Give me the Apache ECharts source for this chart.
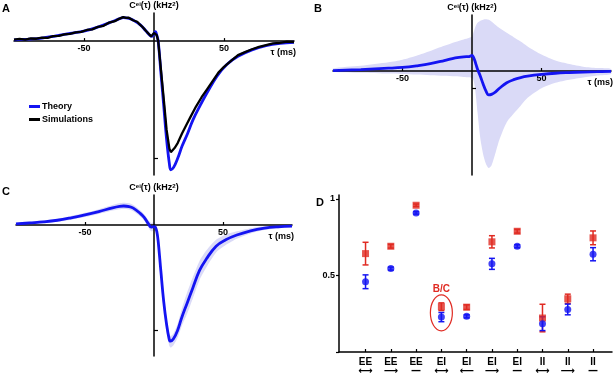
<!DOCTYPE html>
<html>
<head>
<meta charset="utf-8">
<script src="https://cdn.jsdelivr.net/npm/echarts@6/dist/echarts.min.js"></script>
<style>
html, body { margin: 0; padding: 0; background: #fff; }
#main { width: 613px; height: 373px; }
</style>
</head>
<body>
<div id="main"></div>
<script>
// panel A : theory vs simulations (units: the y tick is -1)
const aTau = [-100, -90, -80, -70, -60, -50, -40, -30, -25, -22, -18, -15, -10, -6, -3, -1.5, 0, 1, 2, 3, 5, 7, 9, 11, 12, 14, 17, 20, 24, 28, 33, 38, 45, 52, 60, 70, 80, 90, 100]
const aTheory = [0.01, 0.017, 0.025, 0.045, 0.065, 0.085, 0.12, 0.165, 0.19, 0.2, 0.195, 0.18, 0.14, 0.09, 0.05, 0.04, 0.065, 0.08, 0.05, 0.0, -0.28, -0.56, -0.84, -1.05, -1.1, -1.08, -1.0, -0.9, -0.79, -0.67, -0.55, -0.44, -0.3, -0.2, -0.13, -0.075, -0.04, -0.02, -0.01]
const simTau = [-100, -96, -92, -88, -84, -80, -76, -72, -68, -64, -60, -56, -52, -48, -44, -40, -36, -32, -28, -25, -22, -20, -18, -15, -12, -10, -8, -6, -4, -2, -1, 0, 1, 2, 3, 5, 7, 9, 11, 12, 13, 15, 17, 20, 23, 26, 30, 34, 38, 42, 46, 50, 55, 60, 65, 70, 75, 80, 85, 90, 95, 100]
const simVal = [0.012, 0.018, 0.012, 0.022, 0.02, 0.03, 0.028, 0.042, 0.045, 0.058, 0.062, 0.075, 0.078, 0.095, 0.1, 0.122, 0.13, 0.158, 0.17, 0.19, 0.205, 0.198, 0.2, 0.178, 0.165, 0.14, 0.118, 0.09, 0.065, 0.04, 0.045, 0.07, 0.085, 0.05, 0.0, -0.25, -0.5, -0.76, -0.92, -0.95, -0.945, -0.91, -0.87, -0.79, -0.72, -0.65, -0.56, -0.48, -0.41, -0.34, -0.27, -0.22, -0.17, -0.12, -0.095, -0.07, -0.05, -0.035, -0.02, -0.015, -0.005, -0.008]

// panel B : mean and spread
const bTau = [-100, -80, -60, -50, -40, -30, -20, -12, -6, -2, 0, 1, 2, 3, 4, 6, 8, 10, 12, 14, 17, 20, 25, 30, 35, 40, 50, 60, 70, 80, 90, 100]
const bMean = [0.02, 0.08, 0.16, 0.21, 0.3, 0.42, 0.6, 0.76, 0.82, 0.83, 0.9, 0.8, 0.6, 0.35, 0.1, -0.3, -0.75, -1.15, -1.38, -1.35, -1.2, -0.98, -0.68, -0.5, -0.38, -0.3, -0.2, -0.13, -0.09, -0.06, -0.04, -0.02]
const bUpper = [0.15, 0.3, 0.5, 0.65, 0.88, 1.15, 1.45, 1.67, 1.82, 1.92, 1.98, 2.2, 2.45, 2.65, 2.78, 2.9, 2.96, 2.98, 2.95, 2.85, 2.65, 2.46, 2.2, 1.95, 1.7, 1.42, 0.95, 0.6, 0.4, 0.25, 0.17, 0.12]
const bLower = [-0.04, -0.1, -0.15, -0.17, -0.2, -0.24, -0.28, -0.31, -0.34, -0.36, -0.4, -0.5, -0.9, -1.6, -2.4, -3.9, -4.8, -5.35, -5.6, -5.45, -4.7, -3.9, -2.95, -2.45, -2.0, -1.55, -1.0, -0.68, -0.5, -0.37, -0.26, -0.17]

// panel C : mean and spread
const cTau = [-100, -90, -80, -70, -60, -50, -40, -30, -25, -22, -18, -15, -10, -7, -4, -2, 0, 1, 2, 3, 5, 7, 9, 11, 12, 14, 17, 20, 24, 28, 33, 38, 45, 52, 60, 70, 80, 90, 100]
const cMean = [0.01, 0.02, 0.03, 0.045, 0.068, 0.095, 0.127, 0.163, 0.177, 0.18, 0.175, 0.16, 0.11, 0.07, 0.01, -0.02, -0.015, -0.02, -0.06, -0.15, -0.44, -0.72, -0.93, -1.08, -1.1, -1.08, -1.0, -0.88, -0.74, -0.6, -0.43, -0.32, -0.2, -0.14, -0.095, -0.055, -0.03, -0.017, -0.01]
const cUpper = [0.02, 0.03, 0.045, 0.06, 0.085, 0.115, 0.15, 0.19, 0.205, 0.21, 0.205, 0.19, 0.14, 0.1, 0.045, 0.02, 0.025, 0.015, -0.02, -0.1, -0.38, -0.65, -0.87, -1.02, -1.05, -1.03, -0.94, -0.8, -0.64, -0.5, -0.34, -0.24, -0.14, -0.09, -0.06, -0.03, -0.012, -0.004, 0.0]
const cLower = [0.0, 0.01, 0.018, 0.03, 0.05, 0.075, 0.105, 0.137, 0.15, 0.152, 0.147, 0.13, 0.08, 0.04, -0.025, -0.06, -0.055, -0.06, -0.1, -0.2, -0.5, -0.79, -0.99, -1.14, -1.16, -1.14, -1.07, -0.96, -0.84, -0.7, -0.52, -0.4, -0.26, -0.19, -0.13, -0.08, -0.048, -0.03, -0.02]

// panel D
const dPos = [1, 2, 3, 4, 5, 6, 7, 8, 9, 10]
const dPairs = ['EE', 'EE', 'EE', 'EI', 'EI', 'EI', 'EI', 'II', 'II', 'II']
const dArrows = ['⟷', '⟶', '—', '⟷', '⟵', '⟶', '—', '⟷', '⟶', '—']
const redVal = [0.643, 0.691, 0.959, 0.296, 0.293, 0.72, 0.789, 0.222, 0.348, 0.746]
const redErr = [0.074, 0.012, 0.008, 0.025, 0.015, 0.04, 0.012, 0.09, 0.03, 0.045]
const blueVal = [0.459, 0.545, 0.909, 0.228, 0.233, 0.576, 0.691, 0.185, 0.278, 0.639]
const blueErr = [0.045, 0.01, 0.008, 0.03, 0.01, 0.036, 0.01, 0.045, 0.035, 0.043]
const circled = [[4, 0.256]]

const FONT = '"Liberation Sans", Arial, sans-serif'
const BLUE = '#1414f2'
const RED = '#e02a22'
const BAND = '#dadaf7'

const pairs = (xs, ys) => xs.map((x, i) => [x, ys[i]])

// 三个曲线面板的网格 + y 轴范围
const panels = [
    { grid: { left: 14, top: 13, width: 280, height: 162 }, ymin: -1.145, ymax: 0.24 },
    { grid: { left: 333, top: 15, width: 278, height: 160 }, ymin: -6.0, ymax: 3.23 },
    { grid: { left: 16, top: 195, width: 276, height: 161 }, ymin: -1.24, ymax: 0.284 }
]

const nameRich = {
    c: { fontSize: 9, fontWeight: 'bold', fontFamily: FONT, color: '#000' },
    s: { fontSize: 6, fontWeight: 'bold', fontFamily: FONT, color: '#000', verticalAlign: 'top' }
}

// 横轴 τ : 用 offset 把整根轴(线, 刻度, 标签)挪到 y=0 的位置
function tauAxis(gridIndex) {
    const p = panels[gridIndex]
    const offset = -p.grid.height * (-p.ymin) / (p.ymax - p.ymin)
    return {
        type: 'value', gridIndex, min: -100, max: 100, position: 'bottom', offset, z: 1.5,
        axisLine: { onZero: false, lineStyle: { color: '#000', width: 1.5 } },
        axisTick: { customValues: [-50, 50], inside: true, length: 3, lineStyle: { color: '#000', width: 1.2 } },
        axisLabel: { customValues: [-50, 50], fontSize: 9, fontWeight: 'bold', fontFamily: FONT, color: '#000', margin: 3 },
        splitLine: { show: false },
        name: 'τ (ms)', nameLocation: 'end', nameGap: 2,
        nameTextStyle: { fontSize: 9, fontWeight: 'bold', fontFamily: FONT, color: '#000', align: 'right', verticalAlign: 'top', padding: [7, 0, 0, 0] }
    }
}

// 纵轴 C(τ)
function cAxis(gridIndex) {
    const p = panels[gridIndex]
    return {
        type: 'value', gridIndex, min: p.ymin, max: p.ymax, z: 1.5,
        axisLine: { onZero: true, lineStyle: { color: '#000', width: 1.5 } },
        axisTick: { customValues: [-1], inside: true, length: 4, lineStyle: { color: '#000', width: 1.2 } },
        axisLabel: { show: false },
        splitLine: { show: false },
        name: '{c|C}{s|ei}{c|(τ) (kHz}{s|2}{c|)}', nameLocation: 'end', nameGap: 3,
        nameTextStyle: { rich: nameRich }
    }
}

// 阴影带: 一个多边形, 上沿 + 反向的下沿
function bandSeries(idx, tau, lower, upper) {
    return {
        name: 'band' + idx, type: 'custom', xAxisIndex: idx, yAxisIndex: idx, z: 1, silent: true,
        data: tau.map((t, i) => [t, lower[i], upper[i]]),
        encode: { x: 0, y: [1, 2] },
        renderItem(params, api) {
            if (params.dataIndex !== 0) return null
            const top = tau.map((t, i) => api.coord([t, upper[i]]))
            const bottom = tau.map((t, i) => api.coord([t, lower[i]])).reverse()
            return { type: 'polygon', shape: { points: top.concat(bottom), smooth: 0.25 }, style: { fill: BAND } }
        }
    }
}

function errorBars(color) {
    return function (params, api) {
        const x = api.value(0)
        const lo = api.coord([x, api.value(1)])
        const hi = api.coord([x, api.value(2)])
        const w = 3
        const style = { stroke: color, lineWidth: 1.5 }
        return {
            type: 'group', children: [
                { type: 'line', shape: { x1: lo[0], y1: lo[1], x2: hi[0], y2: hi[1] }, style },
                { type: 'line', shape: { x1: lo[0] - w, y1: lo[1], x2: lo[0] + w, y2: lo[1] }, style },
                { type: 'line', shape: { x1: hi[0] - w, y1: hi[1], x2: hi[0] + w, y2: hi[1] }, style }
            ]
        }
    }
}

const chart = echarts.init(document.getElementById('main'), null, { renderer: 'canvas' })

const option = {
    animation: false,
    backgroundColor: '#fff',
    grid: panels.map(p => Object.assign({ outerBoundsMode: 'none' }, p.grid)).concat([
        { left: 339, top: 195, width: 273, height: 157, outerBoundsMode: 'none' }
    ]),
    xAxis: [
        tauAxis(0), tauAxis(1), tauAxis(2),
        {
            type: 'value', gridIndex: 3, min: -0.05, max: 10.75,
            axisLine: { onZero: false, lineStyle: { color: '#000', width: 1.5 } },
            axisTick: { customValues: dPos, inside: true, length: 3, lineStyle: { color: '#000', width: 1.2 } },
            axisLabel: {
                customValues: dPos, margin: 6,
                formatter: v => '{p|' + dPairs[v - 1] + '}\n{a|' + dArrows[v - 1] + '}',
                rich: {
                    p: { fontSize: 10, fontWeight: 'bold', fontFamily: FONT, color: '#000', lineHeight: 9 },
                    a: { fontSize: 10, fontWeight: 'bold', fontFamily: 'DejaVu Sans', color: '#000', lineHeight: 8 }
                }
            },
            splitLine: { show: false }
        }
    ],
    yAxis: [
        cAxis(0), cAxis(1), cAxis(2),
        {
            type: 'value', gridIndex: 3, min: 0, max: 1.026,
            axisLine: { onZero: false, lineStyle: { color: '#000', width: 1.5 } },
            axisTick: { customValues: [0, 0.5, 1], length: 3, lineStyle: { color: '#000', width: 1.2 } },
            axisLabel: { customValues: [0.5, 1], fontSize: 9, fontWeight: 'bold', fontFamily: FONT, color: '#000', margin: 4 },
            splitLine: { show: false }
        }
    ],
    legend: {
        data: ['Theory', 'Simulations'], orient: 'vertical', left: 24, top: 97,
        icon: 'rect', itemWidth: 11, itemHeight: 3, itemGap: 4, selectedMode: false,
        textStyle: { fontSize: 9, fontWeight: 'bold', fontFamily: FONT, color: '#000', padding: [0, 0, 0, -3] }
    },
    graphic: [
        { type: 'text', left: 2, top: 3, style: { text: 'A', font: 'bold 11px ' + FONT, fill: '#000' } },
        { type: 'text', left: 314, top: 3, style: { text: 'B', font: 'bold 11px ' + FONT, fill: '#000' } },
        { type: 'text', left: 2, top: 186, style: { text: 'C', font: 'bold 11px ' + FONT, fill: '#000' } },
        { type: 'text', left: 316, top: 197, style: { text: 'D', font: 'bold 11px ' + FONT, fill: '#000' } }
    ],
    series: [
        // A
        { name: 'Theory', type: 'line', xAxisIndex: 0, yAxisIndex: 0, z: 2, data: pairs(aTau, aTheory), smooth: 0.4, symbol: 'none', color: BLUE, lineStyle: { color: BLUE, width: 2.8 } },
        { name: 'Simulations', type: 'line', xAxisIndex: 0, yAxisIndex: 0, z: 2, data: pairs(simTau, simVal), symbol: 'none', color: '#000', lineStyle: { color: '#000', width: 2.3 } },
        // B
        bandSeries(1, bTau, bLower, bUpper),
        { name: 'meanB', type: 'line', xAxisIndex: 1, yAxisIndex: 1, z: 2, data: pairs(bTau, bMean), smooth: 0.4, symbol: 'none', lineStyle: { color: BLUE, width: 2.8 } },
        // C
        bandSeries(2, cTau, cLower, cUpper),
        { name: 'meanC', type: 'line', xAxisIndex: 2, yAxisIndex: 2, z: 2, data: pairs(cTau, cMean), smooth: 0.4, symbol: 'none', lineStyle: { color: BLUE, width: 2.8 } },
        // D
        { name: 'redErr', type: 'custom', xAxisIndex: 3, yAxisIndex: 3, renderItem: errorBars(RED), data: dPos.map((p, i) => [p, redVal[i] - redErr[i], redVal[i] + redErr[i]]), encode: { x: 0, y: [1, 2] }, z: 3 },
        { name: 'blueErr', type: 'custom', xAxisIndex: 3, yAxisIndex: 3, renderItem: errorBars(BLUE), data: dPos.map((p, i) => [p, blueVal[i] - blueErr[i], blueVal[i] + blueErr[i]]), encode: { x: 0, y: [1, 2] }, z: 3 },
        { name: 'red', type: 'scatter', xAxisIndex: 3, yAxisIndex: 3, symbol: 'rect', symbolSize: 7, itemStyle: { color: RED }, data: pairs(dPos, redVal), z: 4 },
        { name: 'blue', type: 'scatter', xAxisIndex: 3, yAxisIndex: 3, symbol: 'circle', symbolSize: 7, itemStyle: { color: BLUE }, data: pairs(dPos, blueVal), z: 4 },
        {
            name: 'ring', type: 'custom', xAxisIndex: 3, yAxisIndex: 3, data: circled, z: 5,
            renderItem(params, api) {
                const c = api.coord([api.value(0), api.value(1)])
                const rx = 11, ry = 18
                return {
                    type: 'group', children: [
                        { type: 'ellipse', shape: { cx: c[0], cy: c[1], rx, ry }, style: { fill: 'none', stroke: RED, lineWidth: 1.2 } },
                        { type: 'text', x: c[0], y: c[1] - ry - 1, style: { text: 'B/C', fill: RED, fontSize: 10, fontWeight: 'bold', fontFamily: FONT, align: 'center', verticalAlign: 'bottom' } }
                    ]
                }
            }
        }
    ]
}

chart.setOption(option)
</script>
</body>
</html>
